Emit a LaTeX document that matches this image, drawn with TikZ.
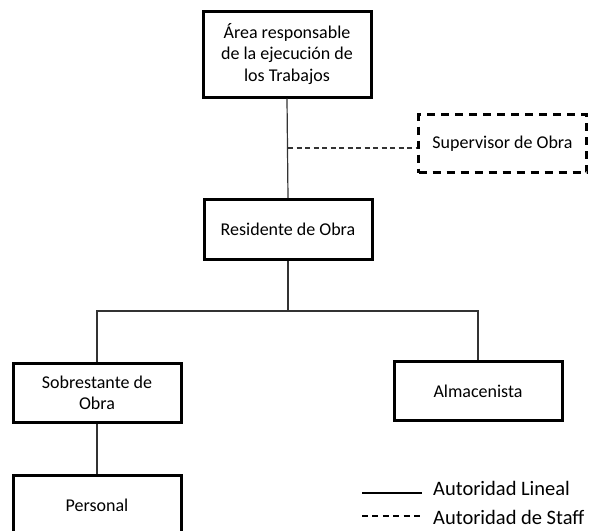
\documentclass[tikz,border=0pt]{standalone}
\usepackage{fontspec}
\setmainfont{Carlito}
\begin{document}
\begin{tikzpicture}[x=1pt,y=-1pt,
  box/.style={draw=black,line width=3pt,minimum width=168pt,minimum height=59pt,inner sep=2pt,align=center,font=\fontsize{18}{21.5}\selectfont},
  conn/.style={draw=black!80,line width=1.2pt},
  stafflink/.style={draw=black!80,line width=1.1pt,dash pattern=on 5pt off 3.5pt},
  legtext/.style={anchor=west,inner sep=0pt,font=\fontsize{20.5}{22}\selectfont}]
\useasboundingbox (0,0) rectangle (590,531);
\node[box,minimum height=86pt] (area) at (287,54) {Área responsable\\de la ejecución de\\los Trabajos};
\node[box,minimum height=60pt] (res) at (288,229.5) {Residente de Obra};
\node[box,line width=2.8pt,dash pattern=on 8pt off 6pt,minimum height=58pt] (sup) at (502.5,143.5) {Supervisor de Obra};
\node[box] (sob) at (97,393) {Sobrestante de\\Obra};
\node[box] (alm) at (478,391) {Almacenista};
\node[box,minimum height=60pt] (per) at (97,505) {Personal};
\coordinate (j1) at (288,148);
\coordinate (hb) at (288,311);
\draw[conn] (area.south) -- (res.north);
\draw[stafflink] (j1) -- (j1 -| sup.west);
\draw[conn] (res.south) -- (hb);
\draw[conn] (sob.north) |- (hb) -| (alm.north);
\draw[conn] (sob.south) -- (per.north);
\coordinate (l1a) at (362,493);
\coordinate (l1b) at (422,493);
\coordinate (l2a) at (362,516);
\coordinate (l2b) at (420,516);
\draw[line width=1.1pt] (l1a) -- (l1b);
\draw[line width=1.1pt,dash pattern=on 6pt off 4.4pt] (l2a) -- (l2b);
\node[legtext] (t1) at (433,488) {Autoridad Lineal};
\node[legtext] (t2) at (433,517) {Autoridad de Staff};
\end{tikzpicture}
\end{document}
